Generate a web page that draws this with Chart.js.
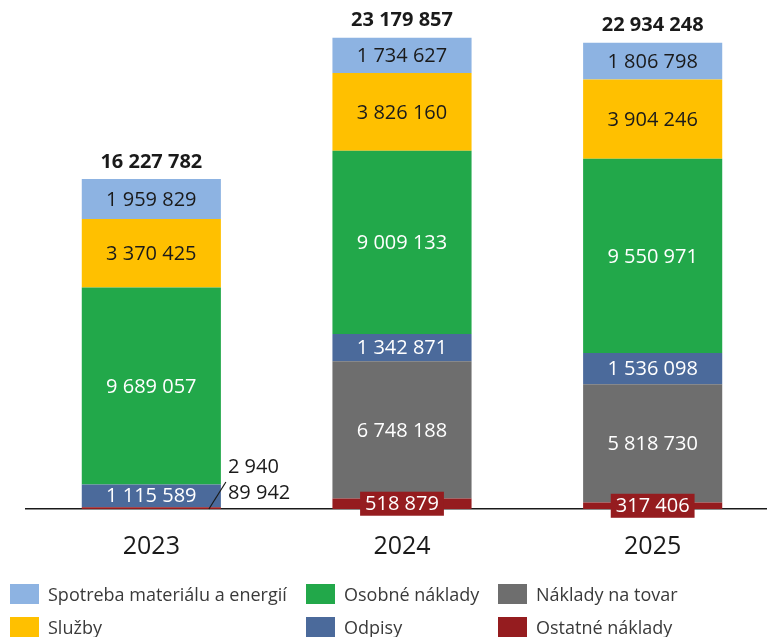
<!DOCTYPE html>
<html>
<head>
<meta charset="utf-8">
<script src="https://cdn.jsdelivr.net/npm/chart.js@4"></script>
<style>
  body { margin: 0; background: #fff; overflow: hidden; width: 767px; height: 637px; }
  #wrap { position: relative; width: 778px; height: 600px; }
  #legend { position: absolute; left: 0; top: 583px; width: 767px; height: 54px;
            font-family: "Open Sans", sans-serif; font-size: 18px; color: #3a3a3a; }
  .item { position: absolute; height: 22px; line-height: 22px; white-space: nowrap; }
  .box { display: inline-block; width: 29px; height: 20px; vertical-align: middle; margin-right: 9px; position: relative; top: -2px; }
</style>
</head>
<body>
<div id="wrap"><canvas id="mychart"></canvas></div>
<div id="legend"></div>
<script>
// Categories along x-axis
var years = ['2023', '2024', '2025'];

// Series, bottom of the stack first
var ostatne  = [89942, 518879, 317406];
var tovar    = [2940, 6748188, 5818730];
var odpisy   = [1115589, 1342871, 1536098];
var osobne   = [9689057, 9009133, 9550971];
var sluzby   = [3370425, 3826160, 3904246];
var spotreba = [1959829, 1734627, 1806798];

// Totals shown above the bars
var totals = [16227782, 23179857, 22934248];

function fmt(n) {
    return String(n).replace(/\B(?=(\d{3})+(?!\d))/g, ' ');
}

var dark = '#1a1a1a';
var font = '"Open Sans", sans-serif';

var datasets = [
    { label: 'Ostatné náklady', data: ostatne, backgroundColor: '#951c1f', labelColor: '#fff', boxed: true },
    { label: 'Náklady na tovar', data: tovar, backgroundColor: '#6e6e6e', labelColor: '#fff' },
    { label: 'Odpisy', data: odpisy, backgroundColor: '#4b6a9b', labelColor: '#fff' },
    { label: 'Osobné náklady', data: osobne, backgroundColor: '#22a84a', labelColor: '#fff' },
    { label: 'Služby', data: sluzby, backgroundColor: '#ffc000', labelColor: dark },
    { label: 'Spotreba materiálu a energií', data: spotreba, backgroundColor: '#8db3e2', labelColor: dark }
];

// legend is laid out in columns, top to bottom
var legendOrder = [5, 4, 3, 2, 1, 0];

var labelPlugin = {
    id: 'segmentLabels',
    afterDatasetsDraw: function (chart) {
        var c = chart.ctx;
        c.save();
        c.textAlign = 'center';
        c.textBaseline = 'middle';
        var outside = {};
        chart.data.datasets.forEach(function (ds, i) {
            var meta = chart.getDatasetMeta(i);
            meta.data.forEach(function (bar, j) {
                var v = ds.data[j];
                var cy = (bar.y + bar.base) / 2;
                c.font = '20px ' + font;
                if (v / totals[j] < 0.01) {
                    (outside[j] = outside[j] || []).push({ v: v, bar: bar });
                    return;
                }
                if (ds.boxed && Math.abs(bar.base - bar.y) < 22) {
                    var w = c.measureText(fmt(v)).width + 10;
                    c.fillStyle = ds.backgroundColor;
                    c.fillRect(bar.x - w / 2, cy - 12, w, 24);
                }
                c.fillStyle = ds.labelColor;
                c.fillText(fmt(v), bar.x, cy + 1);
            });
        });
        // small values: labels beside the bar with a leader line
        Object.keys(outside).forEach(function (j) {
            var list = outside[j];
            var bar = list[0].bar;
            var right = bar.x + bar.width / 2;
            c.strokeStyle = dark;
            c.lineWidth = 1.2;
            c.beginPath();
            c.moveTo(right - 12, bar.base);
            c.lineTo(right + 5, bar.base - 27);
            c.stroke();
            c.textAlign = 'left';
            c.fillStyle = dark;
            list.forEach(function (o, k) {
                c.fillText(fmt(o.v), right + 7, bar.base - 16 - k * 26);
            });
        });
        // totals
        c.textAlign = 'center';
        c.font = 'bold 20px ' + font;
        c.fillStyle = dark;
        var top = chart.getDatasetMeta(chart.data.datasets.length - 1);
        top.data.forEach(function (bar, j) {
            c.fillText(fmt(totals[j]), bar.x, bar.y - 17);
        });
        c.restore();
    }
};

var ctx = document.getElementById('mychart');

var mychart = new Chart(ctx, {
    type: 'bar',
    data: { labels: years, datasets: datasets },
    options: {
        responsive: true,
        maintainAspectRatio: false,
        animation: false,
        categoryPercentage: 1,
        barPercentage: 0.555,
        layout: { padding: { left: 26, right: 0, top: 10, bottom: 15 } },
        plugins: { legend: { display: false }, tooltip: { enabled: false } },
        scales: {
            x: {
                stacked: true,
                grid: { display: false, drawTicks: false },
                border: { display: true, color: dark, width: 1.5 },
                ticks: { color: dark, font: { family: font, size: 25 }, padding: 23 }
            },
            y: { stacked: true, display: false, min: 0, max: 24545000 }
        }
    },
    plugins: [labelPlugin]
});

// legend in three columns
var legendCols = [10, 306, 498];
var legend = document.getElementById('legend');
legendOrder.forEach(function (idx, k) {
    var ds = datasets[idx];
    var el = document.createElement('div');
    el.className = 'item';
    el.style.left = legendCols[Math.floor(k / 2)] + 'px';
    el.style.top = (k % 2) * 33 + 'px';
    el.innerHTML = '<span class="box" style="background:' + ds.backgroundColor + '"></span>' + ds.label;
    legend.appendChild(el);
});
</script>
</body>
</html>
